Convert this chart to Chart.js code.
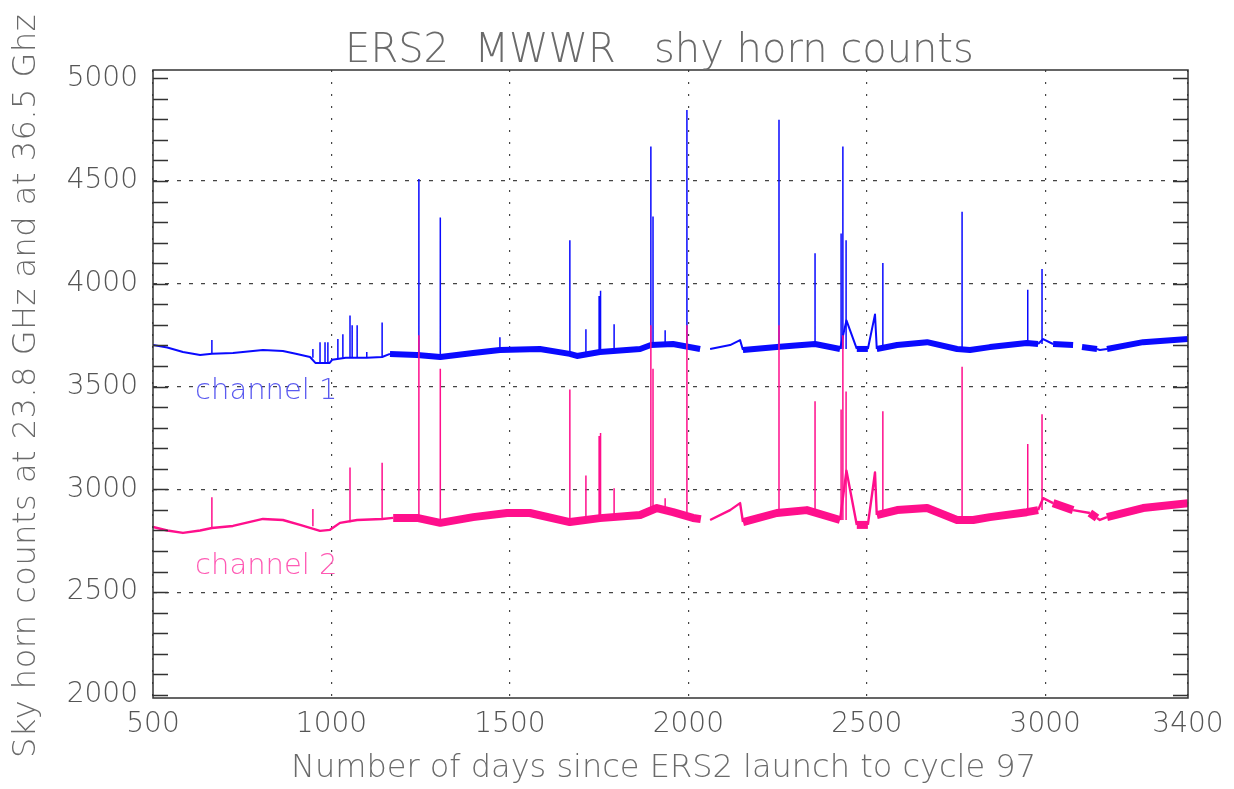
<!DOCTYPE html>
<html>
<head>
<meta charset="utf-8">
<script src="https://cdn.jsdelivr.net/npm/chart.js@4.4.1/dist/chart.umd.min.js"></script>
<style>
  html, body { margin: 0; background: #fff; }
  #wrap { width: 1234px; height: 789px; }
</style>
</head>
<body>
<div id="wrap"><canvas id="chart"></canvas></div>
<script>
const xTicks = [500, 1000, 1500, 2000, 2500, 3000, 3400];
const yTicks = [2000, 2500, 3000, 3500, 4000, 4500, 5000];

// [day, counts] along the baseline of each channel, null = data gap
const ch1Line = [
  [500,3702],[540,3690],[584,3668],[632,3654],[665,3660],[724,3663],[808,3678],[864,3673],
  [900,3660],[940,3644],[955,3615],[995,3615],[1002,3630],[1040,3640],[1072,3640],[1099,3640],
  [1142,3644],[1164,3659],[1240,3654],[1305,3644],[1397,3663],[1472,3678],[1584,3683],[1668,3659],
  [1688,3649],[1752,3668],[1865,3683],[1895,3702],[1957,3707],[2033,3683],[2048,null],[2061,3683],
  [2117,3702],[2145,3726],[2153,3678],[2248,3692],[2300,3700],[2355,3707],[2425,3683],[2443,3822],
  [2472,3683],[2503,3683],[2523,3851],[2528,3683],[2585,3702],[2669,3716],[2753,3683],[2789,3678],
  [2845,3692],[2948,3712],[2980,3707],[2994,3731],[3022,3707],[3078,3702],[3090,null],[3103,3692],
  [3145,3683],[3153,3678],[3173,3683],[3274,3716],[3400,3731]
];
const ch2Line = [
  [500,2817],[540,2800],[584,2788],[632,2800],[665,2812],[724,2822],[808,2856],[864,2851],
  [912,2827],[968,2798],[996,2803],[1024,2837],[1072,2851],[1142,2856],[1173,2861],[1240,2861],
  [1305,2837],[1397,2865],[1492,2885],[1556,2885],[1668,2841],[1752,2860],[1865,2875],[1912,2909],
  [1957,2889],[2013,2861],[2035,2855],[2048,null],[2061,2851],[2117,2899],[2145,2933],[2153,2841],
  [2248,2885],[2332,2899],[2425,2851],[2443,3091],[2472,2827],[2503,2827],[2523,3082],[2528,2875],
  [2585,2899],[2669,2909],[2753,2851],[2798,2851],[2845,2865],[2948,2889],[2980,2899],[2994,2957],
  [3022,2933],[3078,2899],[3125,2885],[3145,2861],[3153,2851],[3173,2865],[3274,2909],[3400,2933]
];

// [day, base, peak] of the short spikes
const ch1Spikes = [
  [665,3660,3726],[948,3640,3683],[968,3615,3716],[982,3615,3716],[990,3615,3716],[1018,3635,3731],
  [1032,3640,3755],[1052,3640,3846],[1058,3640,3798],[1072,3640,3798],[1099,3640,3668],[1142,3644,3812],
  [1245,3654,4510],[1305,3644,4322],[1472,3678,3740],[1668,3659,4212],[1713,3655,3779],[1750,3665,3940],
  [1754,3665,3966],[1792,3670,3803],[1895,3690,4668],[1901,3700,4327],[1935,3707,3774],[1996,3700,4846],
  [2254,3692,4798],[2355,3707,4149],[2428,3683,4245],[2433,3683,4668],[2442,3683,4212],[2545,3690,4101],
  [2767,3683,4351],[2951,3712,3971],[2991,3707,4072]
];
const ch2Spikes = [
  [665,2812,2962],[948,2820,2904],[1052,2840,3106],[1142,2856,3130],[1245,2861,3750],[1305,2837,3587],
  [1668,2841,3486],[1713,2850,3067],[1750,2860,3260],[1754,2860,3274],[1792,2865,3005],[1895,2880,3798],
  [1901,2900,3587],[1935,2905,2957],[1996,2889,3798],[2254,2885,3798],[2355,2899,3428],[2428,2851,3389],
  [2433,2851,3750],[2442,2851,3476],[2545,2875,3380],[2767,2851,3596],[2951,2889,3221],[2991,2899,3365]
];

// day ranges where the noisy trace forms a thick band
const bandRanges = [[1160,2035],[2153,2442],[2472,2505],[2528,2992],[3022,3080],[3100,3145],[3173,3400]];

function toPoints(rows) {
  return rows.map(r => ({ x: r[0], y: r[1] }));
}
function spikePoints(rows) {
  return rows.flatMap(r => [{ x: r[0], y: r[1] }, { x: r[0], y: r[2] }, { x: r[0], y: null }]);
}
function inBand(a, b) {
  return bandRanges.some(r => a >= r[0] && b <= r[1]);
}

const BLUE = '#0a0aff';
const PINK = '#ff0f8c';
const FONT = '"DejaVu Sans", sans-serif';

const decor = {
  id: 'decor',
  afterDraw(chart) {
    const { ctx, chartArea: a, scales: { x, y } } = chart;
    ctx.save();
    // inward minor ticks on left and right sides
    ctx.strokeStyle = '#333';
    ctx.lineWidth = 1.3;
    for (let v = yTicks[0]; v <= yTicks[yTicks.length - 1]; v += 100) {
      const py = Math.round(y.getPixelForValue(v)) + 0.5;
      ctx.beginPath();
      ctx.moveTo(a.left, py); ctx.lineTo(a.left + 15, py);
      ctx.moveTo(a.right - 15, py); ctx.lineTo(a.right, py);
      ctx.stroke();
    }
    // frame
    ctx.strokeStyle = '#333';
    ctx.lineWidth = 1.5;
    ctx.strokeRect(a.left, a.top, a.right - a.left, a.bottom - a.top);

    ctx.fillStyle = '#6a6a6a';
    ctx.textBaseline = 'alphabetic';
    // title
    ctx.font = '200 40px ' + FONT;
    ctx.textAlign = 'center';
    ctx.fillText('ERS2  MWWR   shy horn counts', (a.left + a.right) / 2 - 11, 62);
    // x title
    ctx.font = '200 32px ' + FONT;
    ctx.fillText('Number of days since ERS2 launch to cycle 97', (a.left + a.right) / 2 - 7, 777);
    // y title
    ctx.save();
    ctx.translate(35, 386);
    ctx.rotate(-Math.PI / 2);
    ctx.letterSpacing = '0.5px';
    ctx.fillText('Sky horn counts at 23.8 GHz and at 36.5 Ghz', 0, 0);
    ctx.restore();

    // channel labels
    ctx.font = '300 29px ' + FONT;
    ctx.textAlign = 'left';
    ctx.fillStyle = '#5a5af0';
    ctx.fillText('channel 1', x.getPixelForValue(618), y.getPixelForValue(3440));
    ctx.fillStyle = '#ff5ab4';
    ctx.fillText('channel 2', x.getPixelForValue(618), y.getPixelForValue(2590));
    ctx.restore();
  }
};

const tickFont = { size: 28, family: FONT, weight: '200' };

new Chart(document.getElementById('chart'), {
  type: 'line',
  data: {
    datasets: [
      { data: spikePoints(ch2Spikes), borderColor: PINK, borderWidth: 1.5 },
      {
        data: toPoints(ch2Line), borderColor: PINK, borderWidth: 2.4,
        segment: { borderWidth: c => inBand(c.p0.parsed.x, c.p1.parsed.x) ? 8 : 2.4 }
      },
      { data: spikePoints(ch1Spikes), borderColor: BLUE, borderWidth: 1.5 },
      {
        data: toPoints(ch1Line), borderColor: BLUE, borderWidth: 2,
        segment: { borderWidth: c => inBand(c.p0.parsed.x, c.p1.parsed.x) ? 6 : 2 }
      }
    ]
  },
  options: {
    responsive: true,
    maintainAspectRatio: false,
    animation: false,
    spanGaps: false,
    elements: { point: { radius: 0 }, line: { tension: 0, borderJoinStyle: 'round' } },
    layout: { padding: { top: 70, right: 46, left: 0, bottom: 0 } },
    plugins: { legend: { display: false }, tooltip: { enabled: false }, title: { display: false } },
    scales: {
      x: {
        type: 'linear', min: 500, max: 3400,
        afterBuildTicks: s => { s.ticks = xTicks.map(v => ({ value: v })); },
        afterFit: s => { s.height = 91; },
        ticks: { font: tickFont, color: '#555', padding: 10, maxRotation: 0, callback: v => String(v) },
        grid: { color: '#444', lineWidth: 1.2, drawTicks: false },
        border: { display: false, dash: [2, 10] }
      },
      y: {
        type: 'linear', min: 1985, max: 5040,
        afterBuildTicks: s => { s.ticks = yTicks.map(v => ({ value: v })); },
        afterFit: s => { s.width = 153; },
        ticks: { font: tickFont, color: '#555', padding: 15, callback: v => String(v) },
        grid: {
          color: c => (c.tick && (c.tick.value === 2000 || c.tick.value === 5000)) ? 'rgba(0,0,0,0)' : '#444',
          lineWidth: 1.2, drawTicks: false
        },
        border: { display: false, dash: [4, 8] }
      }
    }
  },
  plugins: [decor]
});
</script>
</body>
</html>
